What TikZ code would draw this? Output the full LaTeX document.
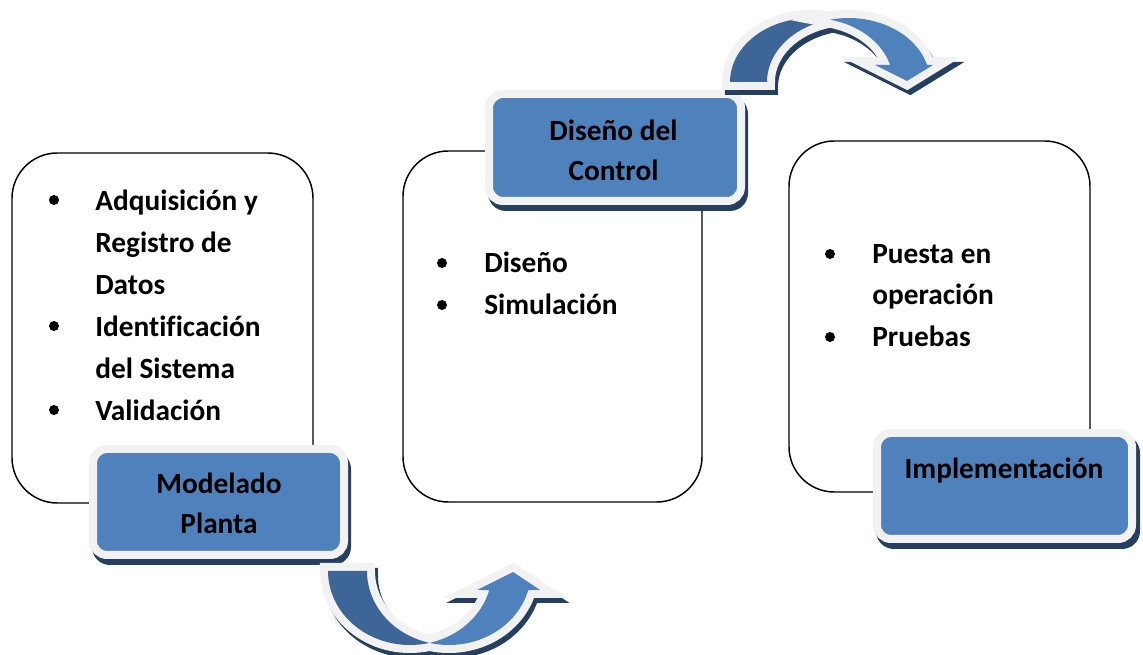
\documentclass[tikz,border=0pt]{standalone}
\usepackage{fontspec}
\setmainfont{Carlito}[Ligatures=NoCommon]
\definecolor{lblue}{HTML}{4F81BD}
\definecolor{dblue}{HTML}{3E6597}
\definecolor{shade}{HTML}{243F60}
\definecolor{rim}{HTML}{F2F2F2}
\newcommand{\itemfnt}{\bfseries\fontsize{22}{31}\selectfont}
% bottom curved arrow (pixel coordinates, y downwards)
\newcommand{\arrBback}{plot[domain=180:76.24,samples=40] ({410+82*cos(\x)},{571+74*sin(\x)}) -- plot[domain=103.76:180,samples=40] ({449+82*cos(\x)},{571+74*sin(\x)}) -- cycle}
\newcommand{\arrBfront}{plot[domain=76.24:14.88,samples=40] ({410+82*cos(\x)},{571+74*sin(\x)}) -- (477,590) -- (513,572) -- (540,590) -- plot[domain=14.88:103.76,samples=40] ({449+82*cos(\x)},{571+74*sin(\x)}) -- cycle}
% top curved arrow
\newcommand{\arrTback}{plot[domain=180:76.88,samples=40] ({811.5+81.5*cos(\x)},{82-64*sin(\x)}) -- plot[domain=103.12:180,samples=40] ({848.5+81.5*cos(\x)},{82-64*sin(\x)}) -- cycle}
\newcommand{\arrTfront}{plot[domain=76.88:15.40,samples=40] ({811.5+81.5*cos(\x)},{82-64*sin(\x)}) -- (875,65) -- (907,81) -- (933,65) -- plot[domain=15.40:103.12,samples=40] ({848.5+81.5*cos(\x)},{82-64*sin(\x)}) -- cycle}
\begin{document}
\begin{tikzpicture}[x=0.75pt,y=-0.75pt,
  panel/.style={draw=black, line width=1.1pt, fill=white, rounded corners=34pt},
  tagshadow/.style={fill=shade, rounded corners=13.5pt},
  tagbody/.style={draw=rim, line width=6pt, fill=lblue, rounded corners=10.5pt},
  item/.style={font=\itemfnt, inner sep=0pt, anchor=base west},
  head/.style={font=\itemfnt, inner sep=0pt, anchor=base},
  dot/.style={circle, fill=black, inner sep=0pt, minimum size=7.5pt},
  rimline/.style={draw=rim, line width=12pt, line join=miter},
  armshadow/.style={fill=shade, draw=shade, line width=12pt, line join=miter}]
\useasboundingbox (0,0) rectangle (1143,655);
\fill[white] (0,0) rectangle (1143,655);

% panels
\path[panel] (12,153) rectangle (313,503);
\path[panel] (403,151) rectangle (702,502);
\path[panel] (789,141) rectangle (1090,492);

% panel 1 items
\node[dot] (d1) at (54,200) {};
\node[item] (t1) at (95,211) {Adquisición y};
\node[item] (t2) at (95,253) {Registro de};
\node[item] (t3) at (95,295) {Datos};
\node[dot] (d2) at (54,326) {};
\node[item] (t4) at (95,337) {Identificación};
\node[item] (t5) at (95,379) {del Sistema};
\node[dot] (d3) at (54,410) {};
\node[item] (t6) at (95,421) {Validación};

% panel 2 items
\node[dot] (d4) at (442,263) {};
\node[item] (u1) at (484,273) {Diseño};
\node[dot] (d5) at (442,305) {};
\node[item] (u2) at (484,315) {Simulación};

% panel 3 items
\node[dot] (d6) at (830,254) {};
\node[item] (v1) at (872,264) {Puesta en};
\node[item] (v2) at (872,305) {operación};
\node[dot] (d7) at (830,337) {};
\node[item] (v3) at (872,347) {Pruebas};

% label tags
\path[tagshadow] (92,451) rectangle (351,565);
\path[tagbody] (93,449) rectangle (344,555);
\node[head] (m1) at (219,494) {Modelado};
\node[head] (m2) at (219,534) {Planta};

\path[tagshadow] (488,96) rectangle (748,211);
\path[tagbody] (489,94) rectangle (741,201);
\node[head] (c1) at (613.5,141) {Diseño del};
\node[head] (c2) at (613.5,181) {Control};

\path[tagshadow] (876,435) rectangle (1140,549);
\path[tagbody] (877,433) rectangle (1132,539);
\node[head] (i1) at (1004,479) {Implementación};

% bottom curved arrow
\begin{scope}[shift={(3,5)}]
  \path[armshadow] \arrBback;
  \path[armshadow] \arrBfront;
\end{scope}
\path[rimline] \arrBback;
\path[fill=dblue] \arrBback;
\path[rimline] \arrBfront;
\path[fill=lblue] \arrBfront;

% top curved arrow
\begin{scope}[shift={(3,5)}]
  \path[armshadow] \arrTback;
  \path[armshadow] \arrTfront;
\end{scope}
\path[rimline] \arrTback;
\path[fill=dblue] \arrTback;
\path[rimline] \arrTfront;
\path[fill=lblue] \arrTfront;
\end{tikzpicture}
\end{document}
